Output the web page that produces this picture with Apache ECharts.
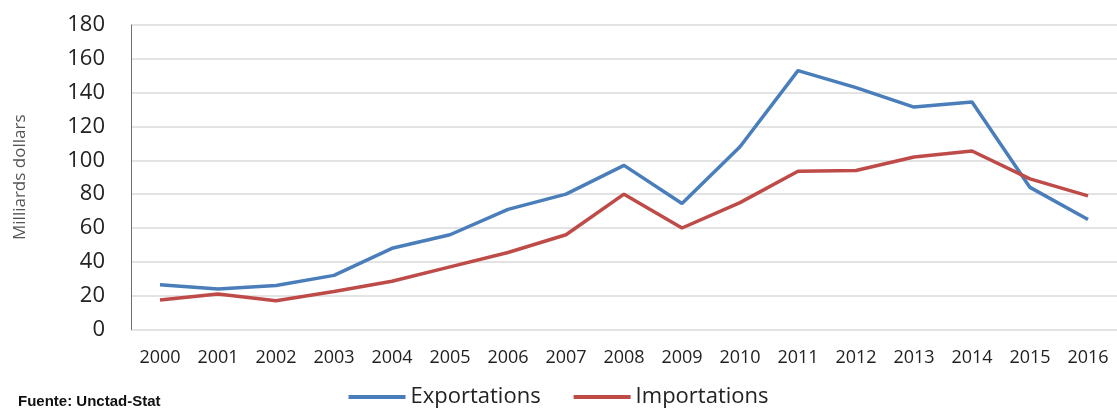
<!DOCTYPE html>
<html>
<head>
<meta charset="utf-8">
<title>Exportations et importations</title>
<script src="https://cdn.jsdelivr.net/npm/echarts@6/dist/echarts.min.js"></script>
<style>
  html, body { margin: 0; padding: 0; background: #fff; }
  #chart { width: 1117px; height: 410px; }
</style>
</head>
<body>
<div id="chart"></div>
<script>
// Years on the horizontal axis
const years = ['2000','2001','2002','2003','2004','2005','2006','2007','2008',
               '2009','2010','2011','2012','2013','2014','2015','2016'];

// Trade flows, billions of dollars
const exportations = [26.5, 24, 26, 32, 48, 56, 71, 80, 97, 74.5, 108, 153, 143, 131.5, 134.5, 84, 65];
const importations = [17.5, 21, 17, 22.5, 28.5, 37, 45.5, 56, 80, 60, 75, 93.5, 94, 102, 105.5, 89, 79];

const seriesNames = ['Exportations', 'Importations'];
const yAxisTitle = 'Milliards dollars';
const sourceNote = 'Fuente: Unctad-Stat';

const chart = echarts.init(document.getElementById('chart'), null, { renderer: 'canvas' });

chart.setOption({
  backgroundColor: '#ffffff',
  animation: false,
  textStyle: { fontFamily: '"Open Sans", sans-serif' },
  grid: { left: 131, right: -4, top: 25, bottom: 80.5, containLabel: false },
  legend: {
    data: seriesNames,
    left: 'center',
    top: 381,
    icon: 'rect',
    itemWidth: 57,
    itemHeight: 4,
    itemGap: 33,
    textStyle: { fontSize: 22, color: '#222', fontFamily: '"Open Sans", sans-serif' }
  },
  graphic: [{
    type: 'text',
    left: 18,
    top: 394,
    style: {
      text: sourceNote,
      fontSize: 15,
      fontWeight: 'bold',
      fill: '#111',
      fontFamily: '"Liberation Sans", Arial, sans-serif'
    }
  }],
  xAxis: {
    type: 'category',
    data: years,
    boundaryGap: true,
    axisLine: { show: false },
    axisTick: { show: false },
    axisLabel: { fontSize: 18, color: '#222', margin: 19, interval: 0 }
  },
  yAxis: {
    type: 'value',
    min: 0,
    max: 180,
    interval: 20,
    name: yAxisTitle,
    nameLocation: 'middle',
    nameGap: 102,
    nameTextStyle: { fontSize: 17, color: '#555' },
    axisLine: { show: true, lineStyle: { color: '#6f6f6f', width: 1 } },
    axisTick: { show: false },
    axisLabel: { fontSize: 22, color: '#222', margin: 26 },
    splitLine: { lineStyle: { color: '#dadada', width: 1.5 } }
  },
  series: [
    {
      name: seriesNames[0],
      type: 'line',
      data: exportations,
      symbol: 'none',
      lineStyle: { color: '#4a7ebb', width: 3.5 },
      itemStyle: { color: '#4a7ebb' }
    },
    {
      name: seriesNames[1],
      type: 'line',
      data: importations,
      symbol: 'none',
      lineStyle: { color: '#be4b48', width: 3.5 },
      itemStyle: { color: '#be4b48' }
    }
  ]
});
</script>
</body>
</html>
